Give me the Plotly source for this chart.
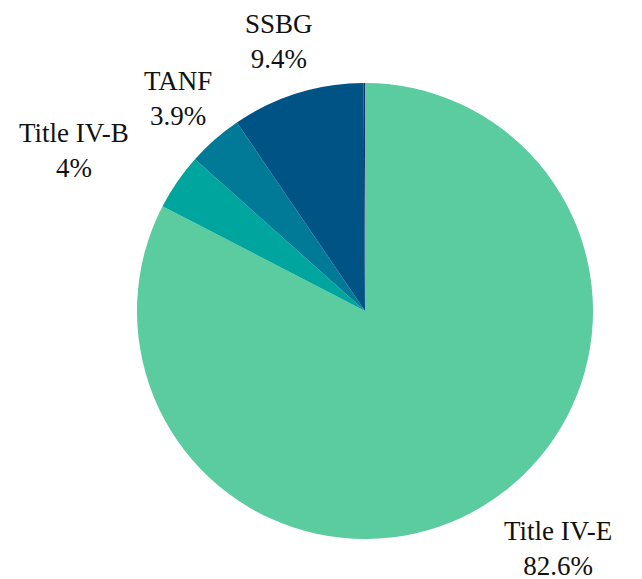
import plotly.graph_objects as go

labels = ["Title IV-E", "Title IV-B", "TANF", "SSBG", "Other"]
values = [82.6, 4.0, 3.9, 9.4, 0.1]
colors = ["#5BCC9F", "#00A59D", "#007A96", "#005385", "#1B2F6B"]
show_label = [True, True, True, True, False]

# label anchor positions (paper coordinates of the plot area), layout only
label_pos = {
    "Title IV-E": (0.923, -0.020),
    "Title IV-B": (-0.138, 0.853),
    "TANF": (0.090, 0.967),
    "SSBG": (0.311, 1.090),
}

fig = go.Figure(go.Pie(
    labels=labels, values=values, sort=False, direction="clockwise", rotation=0,
    marker=dict(colors=colors, line=dict(width=0)),
    textinfo="none", showlegend=False, hoverinfo="label+percent",
))

total = sum(values)
for lab, val, show in zip(labels, values, show_label):
    if not show:
        continue
    pct = round(val / total * 100, 1)
    x, y = label_pos[lab]
    fig.add_annotation(
        x=x, y=y, xref="paper", yref="paper", xanchor="center", yanchor="middle",
        text=f"{lab}<br>{pct:g}%", showarrow=False, align="center",
        font=dict(family="Liberation Serif", size=27, color="#111111"),
    )

fig.update_layout(
    width=642, height=579,
    margin=dict(l=129, r=57, t=75, b=48, autoexpand=False),
    paper_bgcolor="white", plot_bgcolor="white",
    font=dict(family="Liberation Serif", size=27, color="#111111"),
)
fig.write_html("out.html")
